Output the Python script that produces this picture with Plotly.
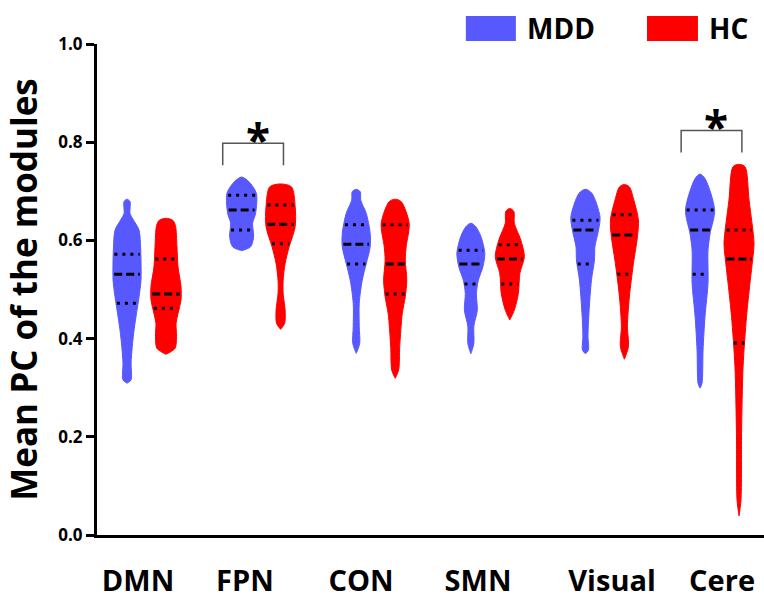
import numpy as np
import plotly.graph_objects as go

# ---------------- data ----------------
modules = ["DMN", "FPN", "CON", "SMN", "Visual", "Cere"]
groups = ["MDD", "HC"]

# density profiles: value levels (top -> bottom) and relative density (0..1)
dmn_mdd_lv = [0.684, 0.679, 0.655, 0.643, 0.621, 0.587, 0.560, 0.519, 0.485, 0.451, 0.418, 0.384, 0.350, 0.316, 0.309]
dmn_mdd_dn = [0.0, 0.2, 0.2, 0.4, 0.8, 0.9, 0.93, 0.93, 0.8, 0.63, 0.47, 0.35, 0.27, 0.27, 0.0]
dmn_hc_lv = [0.645, 0.641, 0.630, 0.587, 0.546, 0.506, 0.479, 0.451, 0.431, 0.404, 0.380, 0.368]
dmn_hc_dn = [0.0, 0.45, 0.63, 0.73, 0.8, 1.0, 1.0, 0.8, 0.67, 0.7, 0.6, 0.0]
fpn_mdd_lv = [0.729, 0.720, 0.696, 0.655, 0.635, 0.608, 0.587, 0.579]
fpn_mdd_dn = [0.0, 0.47, 0.98, 0.93, 0.73, 0.8, 0.6, 0.0]
fpn_hc_lv = [0.715, 0.709, 0.669, 0.628, 0.587, 0.553, 0.519, 0.492, 0.458, 0.431, 0.419]
fpn_hc_dn = [0.0, 0.73, 0.97, 0.97, 0.57, 0.3, 0.17, 0.17, 0.3, 0.27, 0.0]
con_mdd_lv = [0.704, 0.699, 0.682, 0.655, 0.614, 0.587, 0.553, 0.519, 0.472, 0.425, 0.390, 0.370]
con_mdd_dn = [0.0, 0.27, 0.3, 0.67, 0.93, 0.93, 0.67, 0.4, 0.2, 0.2, 0.23, 0.0]
con_hc_lv = [0.684, 0.679, 0.635, 0.587, 0.560, 0.519, 0.485, 0.451, 0.384, 0.336, 0.319]
con_hc_dn = [0.0, 0.4, 0.93, 0.73, 0.67, 0.77, 0.67, 0.47, 0.3, 0.23, 0.0]
smn_mdd_lv = [0.635, 0.628, 0.608, 0.574, 0.546, 0.519, 0.492, 0.458, 0.425, 0.390, 0.369]
smn_mdd_dn = [0.0, 0.33, 0.67, 0.93, 0.8, 0.5, 0.37, 0.43, 0.2, 0.2, 0.0]
smn_hc_lv = [0.665, 0.659, 0.635, 0.601, 0.567, 0.533, 0.492, 0.458, 0.438]
smn_hc_dn = [0.0, 0.27, 0.3, 0.73, 0.97, 0.67, 0.57, 0.3, 0.0]
vis_mdd_lv = [0.704, 0.696, 0.648, 0.621, 0.587, 0.560, 0.519, 0.451, 0.404, 0.377, 0.369]
vis_mdd_dn = [0.0, 0.43, 0.97, 0.87, 0.63, 0.6, 0.4, 0.23, 0.17, 0.2, 0.0]
vis_hc_lv = [0.714, 0.709, 0.682, 0.642, 0.608, 0.553, 0.485, 0.425, 0.384, 0.358]
vis_hc_dn = [0.0, 0.33, 0.63, 0.93, 0.87, 0.6, 0.33, 0.2, 0.27, 0.0]
cere_mdd_lv = [0.735, 0.726, 0.662, 0.614, 0.580, 0.513, 0.445, 0.377, 0.309, 0.299]
cere_mdd_dn = [0.0, 0.33, 0.97, 0.67, 0.53, 0.53, 0.33, 0.2, 0.13, 0.0]
cere_hc_lv = [0.755, 0.750, 0.682, 0.594, 0.567, 0.513, 0.445, 0.343, 0.207, 0.071, 0.039]
cere_hc_dn = [0.0, 0.4, 0.67, 1.0, 0.93, 0.73, 0.5, 0.27, 0.17, 0.13, 0.0]

# quartiles [Q1, median, Q3]
q_mdd = [[0.472, 0.531, 0.572], [0.621, 0.662, 0.692], [0.552, 0.592, 0.632],
         [0.511, 0.552, 0.580], [0.552, 0.621, 0.641], [0.531, 0.621, 0.662]]
q_hc = [[0.462, 0.491, 0.562], [0.593, 0.633, 0.672], [0.491, 0.552, 0.632],
        [0.511, 0.562, 0.591], [0.531, 0.611, 0.652], [0.391, 0.562, 0.621]]

significant = ["FPN", "Cere"]

y_ticks = [0.0, 0.2, 0.4, 0.6, 0.8, 1.0]

# ---------------- styles ----------------
COL = {"MDD": "#5858FF", "HC": "#FF0000"}
OFF = {"MDD": -0.17, "HC": 0.17}
HALFW = 0.131
FONT = "Open Sans"
LABEL_SHIFT = [-0.074, -0.141, -0.128, -0.107, 0.062, 0.022]  # label placement as in the original figure

profiles = {
    ("DMN", "MDD"): (dmn_mdd_lv, dmn_mdd_dn), ("DMN", "HC"): (dmn_hc_lv, dmn_hc_dn),
    ("FPN", "MDD"): (fpn_mdd_lv, fpn_mdd_dn), ("FPN", "HC"): (fpn_hc_lv, fpn_hc_dn),
    ("CON", "MDD"): (con_mdd_lv, con_mdd_dn), ("CON", "HC"): (con_hc_lv, con_hc_dn),
    ("SMN", "MDD"): (smn_mdd_lv, smn_mdd_dn), ("SMN", "HC"): (smn_hc_lv, smn_hc_dn),
    ("Visual", "MDD"): (vis_mdd_lv, vis_mdd_dn), ("Visual", "HC"): (vis_hc_lv, vis_hc_dn),
    ("Cere", "MDD"): (cere_mdd_lv, cere_mdd_dn), ("Cere", "HC"): (cere_hc_lv, cere_hc_dn),
}
quart = {"MDD": q_mdd, "HC": q_hc}

fig = go.Figure()

for k, m in enumerate(modules):
    for g in groups:
        lv, dn = profiles[(m, g)]
        lv = np.array(lv); dn = np.array(dn)
        c = k + OFF[g]
        xs = np.concatenate([c + dn * HALFW, (c - dn * HALFW)[::-1]])
        ys = np.concatenate([lv, lv[::-1]])
        fig.add_trace(go.Scatter(x=xs, y=ys, mode="lines", fill="toself",
                                 fillcolor=COL[g], line=dict(color=COL[g], width=1, shape="spline", smoothing=0.8),
                                 hoverinfo="skip", showlegend=False))
        for i, q in enumerate(quart[g][k]):
            w = np.interp(q, lv[::-1], dn[::-1]) * HALFW * 0.92
            fig.add_trace(go.Scatter(x=[c - w, c + w], y=[q, q], mode="lines",
                                     line=dict(color="black", width=3,
                                               dash="8px,4px" if i == 1 else "3px,5px"),
                                     hoverinfo="skip", showlegend=False))

# significance brackets
for m in significant:
    k = modules.index(m)
    top_val = max(max(profiles[(m, "MDD")][0]), max(profiles[(m, "HC")][0]))
    b0 = top_val + 0.024
    b1 = b0 + 0.045
    xl, xr = k - 0.335, k + 0.195
    fig.add_trace(go.Scatter(x=[xl, xl, xr, xr], y=[b0, b1, b1, b0], mode="lines",
                             line=dict(color="#555555", width=1.5), hoverinfo="skip", showlegend=False))
    fig.add_annotation(x=k - 0.03, y=b1, text="<b>*</b>", showarrow=False, xanchor="center", yanchor="middle",
                       yshift=4, font=dict(family=FONT, size=44, color="black"))

# legend (manual)
legend_items = [("MDD", 0.553, 0.628), ("HC", 0.8246, 0.901)]
for name, x0, x1 in legend_items:
    fig.add_shape(type="rect", xref="paper", yref="paper", x0=x0, x1=x1, y0=1.006, y1=1.057,
                  fillcolor=COL[name], line=dict(color=COL[name], width=0))
    fig.add_annotation(xref="paper", yref="paper", x=x1 + 0.014, y=1.0316, text="<b>%s</b>" % name,
                       showarrow=False, xanchor="left", yanchor="middle",
                       font=dict(family=FONT, size=28, color="black"))

fig.update_layout(
    width=764, height=601, margin=dict(l=97, r=0, t=44, b=66, autoexpand=False),
    plot_bgcolor="white", paper_bgcolor="white", showlegend=False,
    font=dict(family=FONT, color="black"),
)
fig.update_xaxes(range=[-0.432, 5.388], tickvals=[k + s for k, s in enumerate(LABEL_SHIFT)], automargin=False,
                 ticktext=["<b>%s</b>" % m for m in modules], showline=True, linewidth=3,
                 linecolor="black", ticks="", showgrid=False, zeroline=False,
                 ticklabelstandoff=18, tickfont=dict(family=FONT, size=29, color="black"))
fig.update_yaxes(range=[0, 1], tickvals=y_ticks, ticktext=["<b>%.1f</b>" % v for v in y_ticks],
                 automargin=False,
                 showline=True, linewidth=3, linecolor="black", ticks="outside", ticklen=8, tickwidth=2.5,
                 tickcolor="black", showgrid=False, zeroline=False,
                 tickfont=dict(family=FONT, size=17, color="black"),
                 title=dict(text="<b>Mean PC of the modules</b>", font=dict(family=FONT, size=35, color="black"),
                            standoff=11))

fig.write_html("out.html", config={"displayModeBar": False},
               post_script="document.body.style.margin='0px';document.body.style.overflow='hidden';")
